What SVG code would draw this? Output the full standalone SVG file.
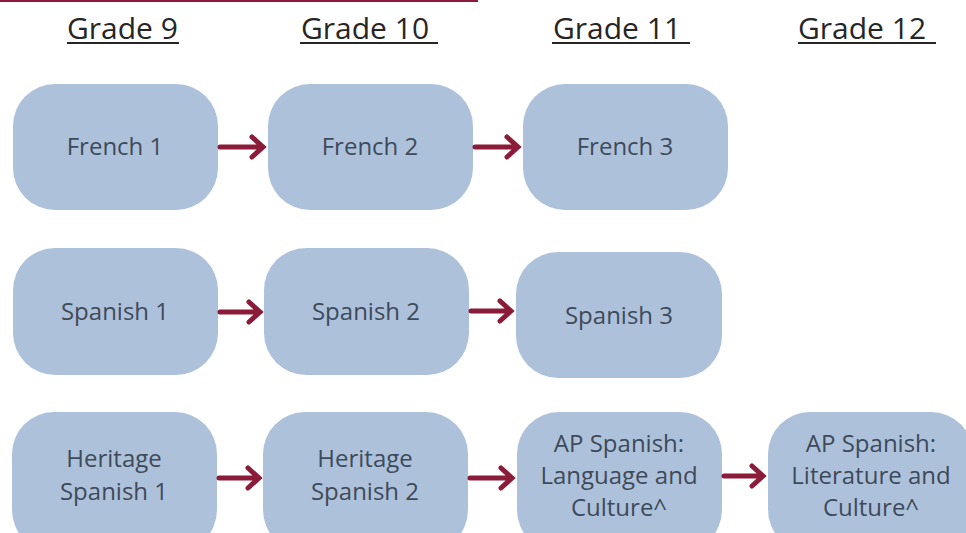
<svg xmlns="http://www.w3.org/2000/svg" width="966" height="533" viewBox="0 0 966 533">
<defs>
<style>
.box{fill:#adc2da}
.lbl{font-family:"Open Sans","Liberation Sans",sans-serif;font-size:24px;fill:#3e4a5a;text-anchor:middle}
.hdr{font-family:"Open Sans","Liberation Sans",sans-serif;font-size:30px;fill:#262626;text-anchor:start}
.ul{stroke:#262626;stroke-width:2}
.arr{fill:none;stroke:#8a1c3a;stroke-width:5;stroke-linecap:round;stroke-linejoin:miter}
</style>
</defs>
<rect width="966" height="533" fill="#ffffff"/>
<line x1="0" y1="1" x2="478" y2="1" stroke="#8a1c3a" stroke-width="2"/>
<g id="headers">
<text class="hdr" x="67" y="39">Grade 9</text>
<line class="ul" x1="67" y1="43" x2="179" y2="43"/>
<text class="hdr" x="301" y="39">Grade 10</text>
<line class="ul" x1="300" y1="43" x2="438" y2="43"/>
<text class="hdr" x="553" y="39">Grade 11</text>
<line class="ul" x1="552" y1="43" x2="690" y2="43"/>
<text class="hdr" x="798" y="39">Grade 12</text>
<line class="ul" x1="798" y1="43" x2="936" y2="43"/>
</g>
<g id="french1"><rect class="box" x="13" y="84" width="205" height="126" rx="42"/><text class="lbl" x="115" y="155">French 1</text></g>
<g id="french2"><rect class="box" x="268" y="84" width="205" height="126" rx="42"/><text class="lbl" x="370" y="155">French 2</text></g>
<g id="french3"><rect class="box" x="523" y="84" width="205" height="126" rx="42"/><text class="lbl" x="625" y="155">French 3</text></g>
<g id="spanish1"><rect class="box" x="13" y="248" width="205" height="127" rx="42"/><text class="lbl" x="115" y="320">Spanish 1</text></g>
<g id="spanish2"><rect class="box" x="264" y="248" width="205" height="127" rx="42"/><text class="lbl" x="366" y="320">Spanish 2</text></g>
<g id="spanish3"><rect class="box" x="516" y="252" width="206" height="126" rx="42"/><text class="lbl" x="619" y="324">Spanish 3</text></g>
<g id="heritage1"><rect class="box" x="12" y="412" width="205" height="140" rx="42"/><text class="lbl" x="114" y="467">Heritage</text><text class="lbl" x="114" y="500">Spanish 1</text></g>
<g id="heritage2"><rect class="box" x="263" y="412" width="205" height="140" rx="42"/><text class="lbl" x="365" y="467">Heritage</text><text class="lbl" x="365" y="500">Spanish 2</text></g>
<g id="aplang"><rect class="box" x="517" y="412" width="205" height="140" rx="42"/><text class="lbl" x="619" y="452">AP Spanish:</text><text class="lbl" x="619" y="484">Language and</text><text class="lbl" x="619" y="516">Culture^</text></g>
<g id="aplit"><rect class="box" x="768" y="412" width="205" height="140" rx="42"/><text class="lbl" x="871" y="452">AP Spanish:</text><text class="lbl" x="871" y="484">Literature and</text><text class="lbl" x="871" y="516">Culture^</text></g>
<g id="connectors">
<path class="arr" d="M220 147H262M252 137L263 147L252 157"/>
<path class="arr" d="M475 147H517M507 137L518 147L507 157"/>
<path class="arr" d="M220 312H259M249 302L260 312L249 322"/>
<path class="arr" d="M471 311H510M500 301L511 311L500 321"/>
<path class="arr" d="M219 478H258M248 468L259 478L248 488"/>
<path class="arr" d="M470 478H511M501 468L512 478L501 488"/>
<path class="arr" d="M724 476H762M752 466L763 476L752 486"/>
</g>
</svg>
